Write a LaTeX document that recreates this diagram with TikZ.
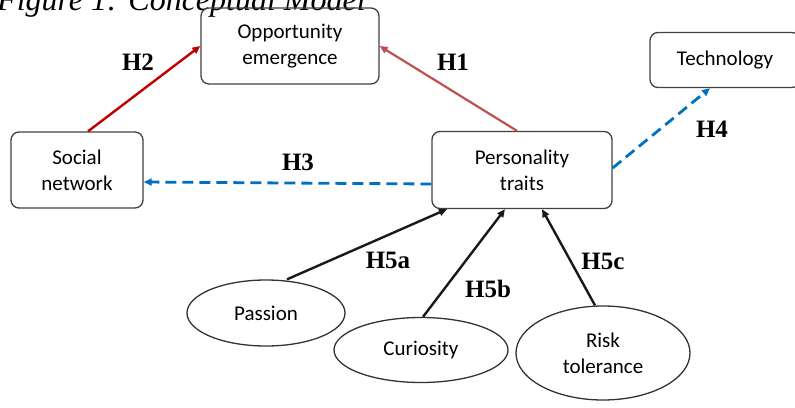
\documentclass[tikz,border=0pt]{standalone}
\usepackage{fontspec}
\setmainfont{Liberation Serif}
\newfontfamily\boxfont{Carlito}
\usetikzlibrary{arrows.meta, shapes.geometric}

\begin{document}
\begin{tikzpicture}[
        x=1pt, y=-1pt,
        >={Triangle[length=8pt,width=7pt]},
        construct/.style={
            rectangle,
            rounded corners=8pt,
            draw=black!75,
            line width=1.3pt,
            font=\boxfont\fontsize{21}{26}\selectfont,
            align=center,
            inner sep=0pt,
        },
        trait/.style={
            ellipse,
            draw=black!80,
            line width=1.3pt,
            font=\boxfont\fontsize{21}{26}\selectfont,
            align=center,
            inner sep=0pt,
        },
        hyp/.style={
            font=\bfseries\fontsize{25}{25}\selectfont,
            inner sep=0pt,
        },
        ArrowRed/.style={
            ->,
            line width=2.4pt,
            draw=red!75!black,
        },
        ArrowPink/.style={
            ->,
            line width=2.2pt,
            draw={rgb,255:red,192;green,80;blue,77},
        },
        ArrowBlue/.style={
            ->,
            line width=2.8pt,
            draw={rgb,255:red,0;green,112;blue,192},
            dash pattern=on 11pt off 6pt,
        },
        ArrowBlack/.style={
            ->,
            line width=2.4pt,
            draw=black!90,
        },
    ]

    \useasboundingbox (0,0) rectangle (795,407);

    % Caption, cut at the top
    \node [anchor=base west, font=\itshape\fontsize{32}{32}\selectfont, inner sep=0pt] (caption) at (-3,10) {Figure 1: Conceptual Model};

    % Draw constructs
    \node [construct, minimum width=178pt, minimum height=76pt] (opp) at (290,46) {Opportunity\\emergence};
    \node [construct, minimum width=150pt, minimum height=55pt] (tech) at (725,60) {Technology};
    \node [construct, minimum width=180pt, minimum height=77pt] (pers) at (522,170) {Personality\\traits};
    \node [construct, minimum width=132pt, minimum height=76pt] (social) at (77,170) {Social\\network};

    % Draw traits
    \node [trait, minimum width=158pt, minimum height=66pt] (passion) at (266,313) {Passion};
    \node [trait, minimum width=174pt, minimum height=65pt] (curiosity) at (421,350) {Curiosity};
    \node [trait, minimum width=174pt, minimum height=94pt] (risk) at (603,353) {Risk\\tolerance};

    % Drawing arrows
    \draw [ArrowRed] ([xshift=11pt]social.north) -- (opp.west);
    \draw [ArrowPink] ([xshift=-5pt]pers.north) -- (opp.east);
    \draw [ArrowBlue] ([yshift=-14pt]pers.west) -- ([yshift=-12pt]social.east);
    \draw [ArrowBlue] ([yshift=2pt]pers.east) -- ([xshift=-15pt]tech.south);
    \draw [ArrowBlack] ([xshift=21pt]passion.north) -- ([xshift=-75pt]pers.south);
    \draw [ArrowBlack] ([xshift=2pt]curiosity.north) -- ([xshift=-17pt]pers.south);
    \draw [ArrowBlack] ([xshift=-8pt]risk.north) -- ([xshift=20pt]pers.south);

    % Hypotheses
    \node [hyp] (h1) at (453,62) {H1};
    \node [hyp] (h2) at (138,62) {H2};
    \node [hyp] (h3) at (298,162) {H3};
    \node [hyp] (h4) at (712,129) {H4};
    \node [hyp] (h5a) at (388,260) {H5a};
    \node [hyp] (h5b) at (488,289) {H5b};
    \node [hyp] (h5c) at (603,261) {H5c};

\end{tikzpicture}
\end{document}
